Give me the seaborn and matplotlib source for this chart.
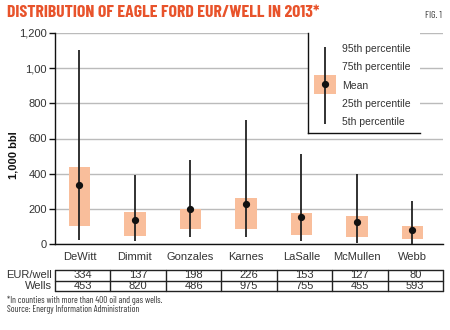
import matplotlib
matplotlib.use("Agg")
import matplotlib.pyplot as plt
import seaborn as sns
import numpy as np
from matplotlib import font_manager

counties = ["DeWitt", "Dimmit", "Gonzales", "Karnes", "LaSalle", "McMullen", "Webb"]
p95 = [1105, 390, 475, 705, 510, 400, 242]
p75 = [440, 180, 200, 262, 177, 162, 105]
mean = [334, 137, 198, 226, 153, 127, 80]
p25 = [100, 47, 85, 85, 49, 38, 28]
p5 = [25, 15, 38, 42, 15, 8, 0]
eur_well = [334, 137, 198, 226, 153, 127, 80]
wells = [453, 820, 486, 975, 755, 455, 593]
yticks = [0, 200, 400, 600, 800, 1000, 1200]
ytick_labels = ["0", "200", "400", "600", "800", "1,00", "1,200"]
legend_labels = ["95th percentile", "75th percentile", "Mean", "25th percentile", "5th percentile"]

sns.set_theme(style="white")
names = {f.name for f in font_manager.fontManager.ttflist}
narrow = ["Barlow Condensed", "DejaVu Sans"] if "Barlow Condensed" in names else ["DejaVu Sans"]
plt.rcParams["font.family"] = ["Liberation Sans", "DejaVu Sans"]

BOX = "#F9BE9B"
TXT = "#333333"
ORANGE = "#E8532B"

fig = plt.figure(figsize=(4.5, 3.3), dpi=100)
fig.patch.set_facecolor("white")
W, H = 450, 330
def fx(px): return px / W
def fy(py): return 1 - py / H

ax = fig.add_axes([fx(55), fy(244), fx(443) - fx(55), fy(33) - fy(244)])
sns.barplot(x=counties, y=p75, color=BOX, width=0.39, saturation=1, ax=ax, zorder=2)
for patch, lo, hi in zip(ax.patches, p25, p75):
    patch.set_y(lo)
    patch.set_height(hi - lo)
    patch.set_edgecolor("none")
xs = np.arange(len(counties))
ax.vlines(xs, p5, p95, color="#222222", lw=1.3, zorder=3)
ax.plot(xs, mean, linestyle="none", marker="o", ms=4.2, color="#111111", zorder=4)

ax.set_xlim(-0.44, 6.55)
ax.set_ylim(0, 1200)
ax.set_yticks(yticks)
ax.set_yticklabels(ytick_labels, fontsize=8, color=TXT)
ax.yaxis.grid(True, color="#BBBBBB", lw=1)
ax.set_axisbelow(True)
for s in ["top", "right"]:
    ax.spines[s].set_visible(False)
for s in ["left", "bottom"]:
    ax.spines[s].set_color("#111111")
    ax.spines[s].set_linewidth(1)
ax.tick_params(axis="y", left=True, length=4, width=1, color="#111111", pad=2)
ax.tick_params(axis="x", length=0, pad=6, labelsize=8, labelcolor=TXT)
ax.set_xlabel("")
ax.set_ylabel("")

# legend key
lg = fig.add_axes([fx(308), fy(133.3), fx(420) - fx(308), fy(33) - fy(133.3)])
lg.set_facecolor("white")
lg.set_xlim(0, 1)
lg.set_ylim(0, 1)
lg.set_xticks([])
lg.set_yticks([])
for s in ["top", "right"]:
    lg.spines[s].set_visible(False)
for s in ["left", "bottom"]:
    lg.spines[s].set_color("#111111")
    lg.spines[s].set_linewidth(1)
lg.add_patch(plt.Rectangle((0.054, 0.389), 0.193, 0.192, color=BOX, lw=0))
lg.vlines(0.149, 0.093, 0.863, color="#222222", lw=1.3)
lg.plot(0.149, 0.489, marker="o", ms=4.2, color="#111111")
for lab, yy in zip(legend_labels, [0.840, 0.658, 0.475, 0.292, 0.110]):
    lg.text(0.306, yy, lab, fontsize=7.5, color=TXT, va="center", ha="left")

# table
tb = fig.add_axes([fx(55), fy(291), fx(443) - fx(55), fy(270) - fy(291)])
tb.set_xlim(-0.5, 6.5)
tb.set_ylim(0, 2)
tb.axis("off")
for yv in [0, 1, 2]:
    tb.plot([-0.5, 6.5], [yv, yv], color="#222222", lw=1, clip_on=False)
for xv in np.arange(-0.5, 7.0, 1):
    tb.plot([xv, xv], [0, 2], color="#222222", lw=1, clip_on=False)
for i in range(len(counties)):
    tb.text(i, 1.5, str(eur_well[i]), ha="center", va="center", fontsize=8, color=TXT)
    tb.text(i, 0.5, str(wells[i]), ha="center", va="center", fontsize=8, color=TXT)
tb.text(-0.55, 1.5, "EUR/well", ha="right", va="center", fontsize=8, color=TXT)
tb.text(-0.55, 0.5, "Wells", ha="right", va="center", fontsize=8, color=TXT)

fig.text(fx(14), fy(155), "1,000 bbl", rotation=90, ha="center", va="center",
         fontsize=8, fontweight="bold", color="#111111")
fig.text(fx(7), fy(12.5), "DISTRIBUTION OF EAGLE FORD EUR/WELL IN 2013*", ha="left", va="center",
         fontsize=12.8, fontweight="bold", color=ORANGE, family=narrow)
fig.text(fx(442), fy(15), "FIG. 1", ha="right", va="center", fontsize=7, color=TXT, family=narrow)
fig.text(fx(7), fy(300), "*In counties with more than 400 oil and gas wells.", ha="left", va="center",
         fontsize=6.6, color=TXT, family=narrow)
fig.text(fx(7), fy(309.5), "Source: Energy Information Administration", ha="left", va="center",
         fontsize=6.6, color=TXT, family=narrow)

fig.savefig("out.png", dpi=100, facecolor="white")
